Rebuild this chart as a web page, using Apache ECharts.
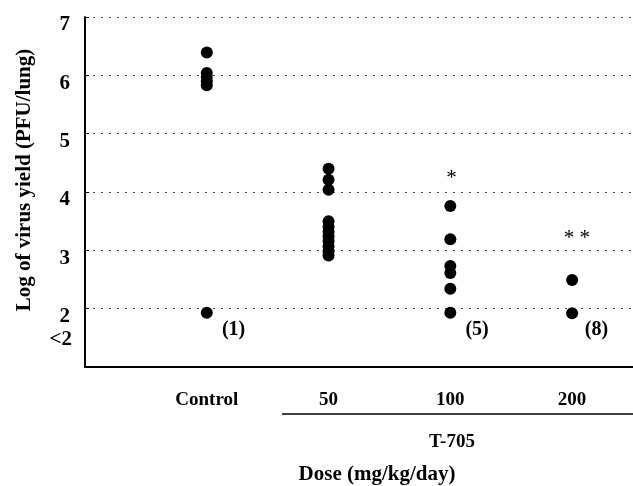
<!DOCTYPE html>
<html>
<head>
    <meta charset="utf-8">
    <title>Virus yield</title>
    <script src="https://cdn.jsdelivr.net/npm/echarts@6/dist/echarts.min.js"></script>
</head>
<body style="margin:0">
<div id="main" style="width: 633px;height:486px;"></div>
<script type="text/javascript">
    // groups on the x axis: 1 = Control, 2..4 = T-705 doses
    var groupLabels = ['', 'Control', '50', '100', '200'];
    var yTicks = [2, 3, 4, 5, 6, 7];

    var controlY = [6.39, 6.04, 5.97, 5.90, 5.83, 1.93];
    var dose50Y = [4.40, 4.21, 4.04, 3.50, 3.40, 3.32, 3.24, 3.16, 3.07, 2.98, 2.91];
    var dose100Y = [3.76, 3.19, 2.73, 2.61, 2.34, 1.93];
    var dose200Y = [2.49, 1.92];

    // annotations inside the plot
    var noteX = [1.22, 3.22, 4.2, 3.01, 4.04];
    var noteY = [1.63, 1.63, 1.63, 4.24, 3.2];
    var noteText = ['(1)', '(5)', '(8)', '*', '* *'];
    var lessThanY = 1.47;

    var font = "'Liberation Serif', 'Times New Roman', serif";

    function pts(x, ys) {
        return ys.map(function (v) { return [x, v]; });
    }

    var dots = [].concat(pts(1, controlY), pts(2, dose50Y), pts(3, dose100Y), pts(4, dose200Y));
    var notes = noteText.map(function (t, i) {
        var bold = t.indexOf('*') < 0;
        return {
            name: t, value: [noteX[i], noteY[i]],
            label: {fontWeight: bold ? 'bold' : 'normal', fontSize: bold ? 20 : 21}
        };
    });
    notes.push({
        name: '<2', value: [0, lessThanY],
        label: {position: 'left', distance: 13, fontSize: 21, fontWeight: 700, fontFamily: font}
    });

    var myChart = echarts.init(document.getElementById('main'));
    var option = {
        animation: false,
        grid: {left: 85, right: 0, top: 17, bottom: 119},
        xAxis: {
            type: 'value',
            min: 0,
            max: 4.5,
            interval: 1,
            axisLine: {lineStyle: {color: '#000', width: 2}},
            axisTick: {show: false},
            splitLine: {show: false},
            axisLabel: {
                margin: 24,
                color: '#000',
                fontFamily: font,
                fontWeight: 'bold',
                fontSize: 19,
                showMaxLabel: false,
                formatter: function (v) {
                    return groupLabels[v] || '';
                }
            }
        },
        yAxis: {
            type: 'value',
            min: 1,
            max: 7,
            interval: 1,
            axisLine: {show: true, lineStyle: {color: '#000', width: 2}},
            axisTick: {show: true, inside: true, length: 4, lineStyle: {color: '#000'}},
            splitLine: {show: true, lineStyle: {color: '#444', type: [2, 6], width: 1}},
            axisLabel: {
                margin: 15,
                verticalAlign: 'top',
                lineHeight: 16,
                color: '#000',
                fontFamily: font,
                fontWeight: 'bold',
                fontSize: 21,
                formatter: function (v) {
                    return yTicks.indexOf(v) >= 0 ? String(v) : '';
                }
            }
        },
        series: [
            {
                type: 'scatter',
                data: dots,
                symbol: 'circle',
                symbolSize: 12,
                itemStyle: {color: '#000', opacity: 1}
            },
            {
                type: 'scatter',
                data: notes,
                symbolSize: 0,
                clip: false,
                silent: true,
                itemStyle: {opacity: 1},
                label: {
                    show: true,
                    position: 'inside',
                    formatter: '{b}',
                    color: '#000',
                    fontFamily: font,
                    fontWeight: 'bold',
                    fontSize: 20
                }
            }
        ],
        graphic: [
            {
                type: 'line',
                shape: {x1: 282, y1: 414, x2: 633, y2: 414},
                style: {stroke: '#000', lineWidth: 1.5}
            },
            {
                type: 'text',
                x: 452, y: 442,
                style: {text: 'T-705', align: 'center', verticalAlign: 'middle',
                    font: 'bold 19px ' + font, fill: '#000'}
            },
            {
                type: 'text',
                x: 377, y: 475,
                style: {text: 'Dose (mg/kg/day)', align: 'center', verticalAlign: 'middle',
                    font: 'bold 21px ' + font, fill: '#000'}
            },
            {
                type: 'text',
                x: 25, y: 180,
                rotation: Math.PI / 2,
                style: {text: 'Log of virus yield (PFU/lung)', align: 'center', verticalAlign: 'middle',
                    font: 'bold 21px ' + font, fill: '#000'}
            }
        ]
    };
    myChart.setOption(option);
</script>
</body>
</html>
